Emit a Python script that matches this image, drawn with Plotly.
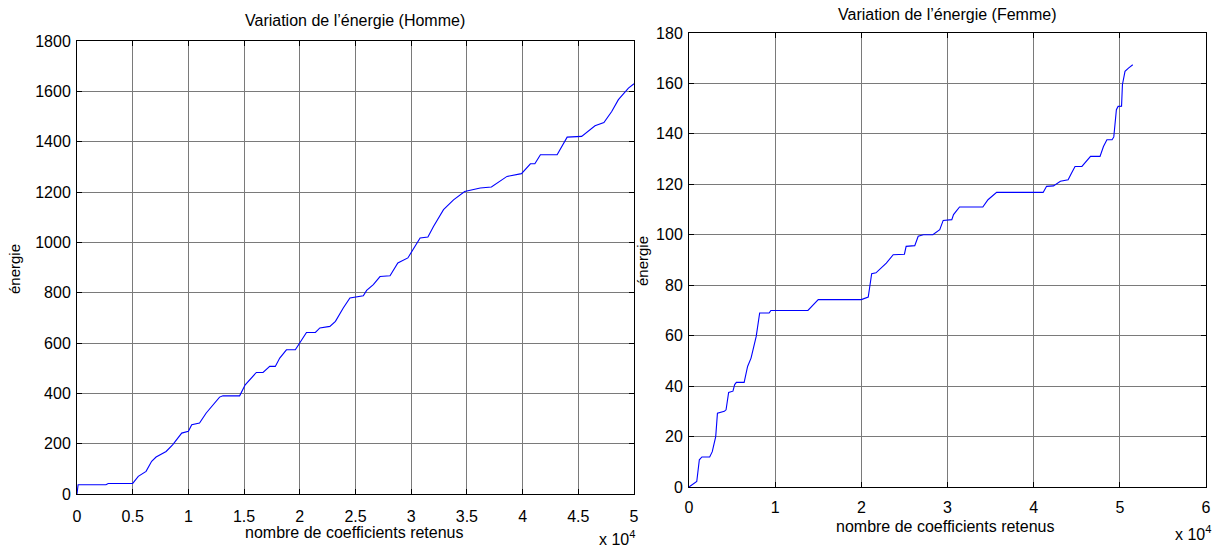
import plotly.graph_objects as go

# Data (x in units of 1e4 coefficients)
homme_x = [0, 0.01, 0.26, 0.28, 0.50, 0.52, 0.55, 0.62, 0.67, 0.71, 0.80, 0.86, 0.94, 1.00, 1.03, 1.10, 1.16, 1.28, 1.31, 1.46,
           1.51, 1.61, 1.67, 1.73, 1.78, 1.82, 1.88, 1.96, 2.02, 2.06, 2.14, 2.18, 2.27, 2.32, 2.39, 2.45, 2.57, 2.60, 2.66, 2.72,
           2.81, 2.88, 2.97, 3.03, 3.08, 3.15, 3.20, 3.29, 3.38, 3.48, 3.62, 3.72, 3.86, 3.99, 4.07, 4.11, 4.16, 4.31, 4.40, 4.53,
           4.65, 4.73, 4.80, 4.86, 4.91, 4.95, 5.00]
homme_y = [0, 37, 37, 42, 42, 55, 70, 90, 130, 147, 169, 196, 242, 249, 275, 282, 322, 385, 390, 390,
           434, 483, 483, 507, 507, 540, 573, 573, 613, 642, 642, 660, 666, 686, 739, 779, 788, 809, 832, 864,
           867, 918, 938, 984, 1017, 1021, 1063, 1130, 1169, 1202, 1216, 1220, 1262, 1273, 1312, 1312, 1348, 1348, 1418, 1421,
           1463, 1476, 1520, 1567, 1593, 1613, 1630]

femme_x = [0, 0.04, 0.09, 0.12, 0.15, 0.24, 0.27, 0.31, 0.33, 0.41, 0.43, 0.46, 0.51, 0.53, 0.55, 0.64, 0.68, 0.72, 0.78, 0.82,
           0.93, 0.95, 1.38, 1.50, 2.00, 2.08, 2.12, 2.17, 2.29, 2.37, 2.50, 2.52, 2.62, 2.66, 2.72, 2.83, 2.91, 2.95, 3.05, 3.07,
           3.14, 3.41, 3.47, 3.57, 4.11, 4.15, 4.23, 4.31, 4.40, 4.44, 4.48, 4.56, 4.66, 4.77, 4.81, 4.85, 4.91, 4.93, 4.96, 4.98,
           5.02, 5.03, 5.06, 5.10, 5.15]
femme_y = [0, 0.9, 2.2, 10.8, 11.9, 11.9, 14, 20, 29.3, 30, 30.6, 37.5, 38, 40.6, 41.5, 41.5, 47.8, 51.1, 59.7, 69,
           69, 70, 70, 74.3, 74.3, 75.3, 84.6, 84.9, 88.8, 92.1, 92.3, 95.4, 95.7, 99.4, 100, 100, 102, 105.7, 106, 108,
           111, 111, 113.9, 116.8, 116.8, 119.2, 119.4, 121.2, 121.8, 124.5, 127.1, 127.1, 131.1, 131.1, 135, 137.7, 137.7, 138.8, 149.6, 150.9,
           151, 159.5, 164.8, 166.1, 167.4]

titles = ["Variation de l\u2019énergie (Homme)", "Variation de l\u2019énergie (Femme)"]
xlabel = "nombre de coefficients retenus"
ylabel = "énergie"

W, H = 1217, 550
FONT = "Liberation Sans, Arial, sans-serif"

def px(x):
    return x / W

def py(y):
    return 1 - y / H

fig = go.Figure()
fig.add_trace(go.Scatter(x=homme_x, y=homme_y, mode="lines", line=dict(color="#0000ff", width=1.1),
                         xaxis="x", yaxis="y", showlegend=False))
fig.add_trace(go.Scatter(x=femme_x, y=femme_y, mode="lines", line=dict(color="#0000ff", width=1.1),
                         xaxis="x2", yaxis="y2", showlegend=False))

common = dict(showline=True, linecolor="black", linewidth=1, mirror="ticks", ticks="inside", ticklen=5,
              tickcolor="black", showgrid=True, gridcolor="#7a7a7a", gridwidth=1, zeroline=False,
              automargin=False,
              tickfont=dict(family=FONT, size=16, color="black"), fixedrange=True)

fig.update_layout(
    width=W, height=H, margin=dict(l=0, r=0, t=0, b=0, pad=0, autoexpand=False),
    paper_bgcolor="white", plot_bgcolor="white",
    font=dict(family=FONT, size=16, color="black"),
    xaxis=dict(domain=[px(77), px(634)], range=[0, 5], tickvals=[0, 0.5, 1, 1.5, 2, 2.5, 3, 3.5, 4, 4.5, 5],
               ticktext=["0", "0.5", "1", "1.5", "2", "2.5", "3", "3.5", "4", "4.5", "5"],
               anchor="y", ticklabelstandoff=8, **common),
    yaxis=dict(domain=[py(494), py(41)], range=[0, 1800], tickvals=list(range(0, 1801, 200)),
               anchor="x", ticklabelstandoff=2, **common),
    xaxis2=dict(domain=[px(689), px(1206)], range=[0, 6], tickvals=[0, 1, 2, 3, 4, 5, 6],
                anchor="y2", ticklabelstandoff=6, **common),
    yaxis2=dict(domain=[py(487), py(33)], range=[0, 180], tickvals=list(range(0, 181, 20)),
                anchor="x2", ticklabelstandoff=2, **common),
)

ann = []
# titles
ann.append(dict(text=titles[0], x=px(355), y=py(20), xref="paper", yref="paper", showarrow=False,
                xanchor="center", yanchor="middle", font=dict(size=16)))
ann.append(dict(text=titles[1], x=px(947), y=py(15), xref="paper", yref="paper", showarrow=False,
                xanchor="center", yanchor="middle", font=dict(size=16)))
# x labels
ann.append(dict(text=xlabel, x=px(354), y=py(532), xref="paper", yref="paper", showarrow=False,
                xanchor="center", yanchor="middle", font=dict(size=16)))
ann.append(dict(text=xlabel, x=px(946), y=py(526), xref="paper", yref="paper", showarrow=False,
                xanchor="center", yanchor="middle", font=dict(size=16)))
# y labels
ann.append(dict(text=ylabel, x=px(15), y=py(269), xref="paper", yref="paper", showarrow=False, textangle=-90,
                xanchor="center", yanchor="middle", font=dict(size=15)))
ann.append(dict(text=ylabel, x=px(642), y=py(261), xref="paper", yref="paper", showarrow=False, textangle=-90,
                xanchor="center", yanchor="middle", font=dict(size=15)))
# exponent labels
ann.append(dict(text="x 10<sup>4</sup>", x=px(597), y=py(538), xref="paper", yref="paper", showarrow=False,
                xanchor="left", yanchor="middle", font=dict(size=16)))
ann.append(dict(text="x 10<sup>4</sup>", x=px(1173), y=py(533), xref="paper", yref="paper", showarrow=False,
                xanchor="left", yanchor="middle", font=dict(size=16)))
fig.update_layout(annotations=ann)

fig.write_html("out.html")
